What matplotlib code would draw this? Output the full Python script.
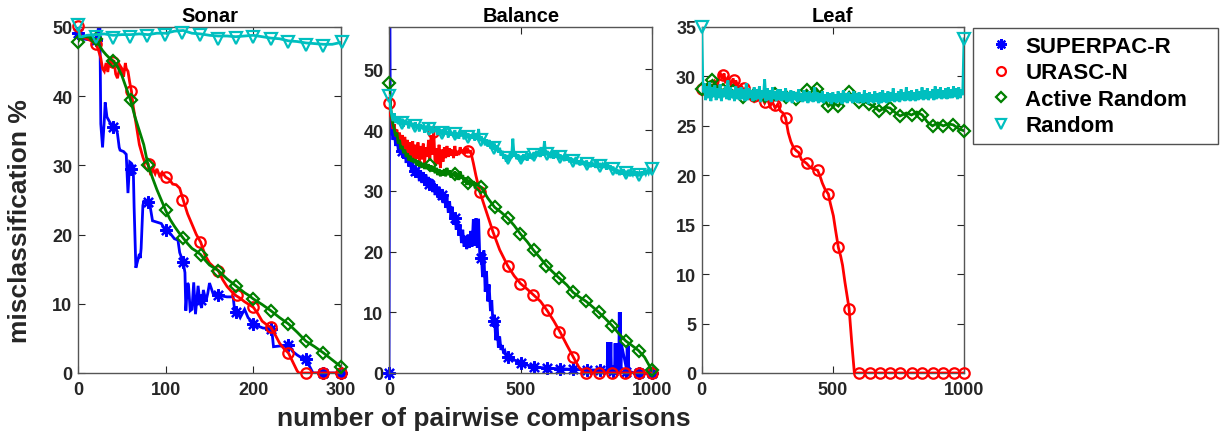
import numpy as np
import matplotlib
matplotlib.use('Agg')
import matplotlib.pyplot as plt
from matplotlib.lines import Line2D

plt.rcParams['font.family'] = ['Liberation Sans', 'DejaVu Sans']
plt.rcParams['font.weight'] = 'bold'

# ---------------- labels ----------------
titles = ['Sonar', 'Balance', 'Leaf']
series_names = ['SUPERPAC-R', 'URASC-N', 'Active Random', 'Random']
x_label = 'number of pairwise comparisons'
y_label = 'misclassification %'

sonar_xticks = [0, 100, 200, 300]
sonar_yticks = [0, 10, 20, 30, 40, 50]
balance_xticks = [0, 500, 1000]
balance_yticks = [0, 10, 20, 30, 40, 50]
leaf_xticks = [0, 500, 1000]
leaf_yticks = [0, 5, 10, 15, 20, 25, 30, 35]

# ---------------- Sonar ----------------
sonar_superpac_x = [0, 5, 10, 15, 20, 22, 24, 25, 26, 28, 30, 31, 33, 36, 40, 43, 45, 47, 48, 52,
                    55, 57, 59, 61, 63, 64, 66, 68, 70, 71, 72, 74, 75, 80, 82, 85, 90, 95, 100, 105,
                    110, 114, 116, 120, 122, 123, 125, 126, 128, 130, 132, 134, 137, 139, 141, 143, 146, 148, 150, 154,
                    160, 170, 177, 179, 182, 185, 190, 194, 197, 200, 205, 211, 219, 221, 223, 230, 238, 240, 245, 250,
                    255, 260, 264, 268, 280, 300]
sonar_superpac_y = [49.2, 48.3, 48.2, 48.2, 48.1, 48.3, 50.9, 50.0, 36.0, 32.6, 36.5, 39.1, 37.0, 36.3, 35.5, 35.6, 34.6, 32.6, 32.2, 32.0,
                    31.6, 26.0, 30.5, 30.3, 29.8, 24.0, 15.2, 16.2, 17.2, 16.6, 18.0, 24.2, 24.8, 24.7, 24.3, 22.0, 21.8, 21.6, 20.6, 20.2,
                    19.4, 19.2, 17.4, 16.0, 14.5, 9.0, 13.0, 12.8, 9.0, 9.2, 13.1, 8.5, 12.6, 10.2, 9.4, 12.0, 10.4, 11.5, 13.0, 11.5,
                    11.2, 11.0, 11.0, 8.6, 8.7, 8.0, 9.2, 8.0, 7.6, 7.1, 6.8, 6.5, 6.4, 6.3, 3.8, 3.9, 3.9, 4.0, 3.1, 2.6,
                    2.2, 2.0, 1.0, 0.0, 0.0, 0.0]
sonar_superpac_mx = [0, 20, 40, 60, 80, 100, 120, 140, 160, 180, 200, 220, 240, 260, 280, 300]
sonar_superpac_my = [49.2, 48.1, 35.5, 29.5, 24.7, 20.6, 16.0, 10.5, 11.2, 8.8, 7.1, 6.4, 4.0, 2.0, 0.0, 0.0]

sonar_urasc_x = [0, 3, 8, 15, 20, 23, 26, 28, 30, 32, 34, 36, 38, 41, 43, 45, 48, 50, 52, 54,
                 55, 57, 59, 61, 63, 66, 70, 74, 76, 80, 83, 85, 88, 90, 93, 96, 100, 104, 108, 112,
                 116, 120, 125, 130, 135, 140, 145, 150, 155, 160, 165, 170, 175, 180, 185, 190, 195, 200, 205, 210,
                 215, 220, 225, 230, 235, 240, 245, 250, 252, 300]
sonar_urasc_y = [50.2, 48.6, 48.4, 48.0, 47.6, 46.8, 45.5, 44.0, 43.6, 44.8, 43.5, 45.4, 44.6, 45.2, 43.2, 42.6, 44.4, 44.0, 42.8, 44.8,
                 44.0, 43.6, 42.0, 40.7, 38.5, 36.2, 33.0, 31.2, 30.5, 30.2, 28.6, 29.6, 28.8, 29.5, 28.5, 29.0, 28.3, 28.0, 27.3, 27.2,
                 26.7, 25.0, 23.0, 21.5, 20.0, 18.9, 17.0, 15.9, 15.3, 14.8, 13.5, 12.5, 11.8, 11.2, 10.8, 10.3, 9.9, 9.5, 8.6, 7.5,
                 7.0, 6.6, 5.5, 4.3, 3.5, 2.9, 1.6, 0.3, 0.0, 0.0]
sonar_urasc_mx = [0, 20, 40, 61, 81, 100, 119, 139, 160, 181, 200, 220, 239, 260, 280, 300]
sonar_urasc_my = [50.2, 47.6, 45.0, 40.7, 30.2, 28.3, 25.0, 18.9, 14.8, 11.3, 9.5, 6.6, 2.9, 0.0, 0.0, 0.0]

sonar_active_x = [0, 3, 8, 15, 20, 24, 28, 32, 36, 40, 45, 50, 55, 60, 65, 70, 75, 80, 85, 90,
                  95, 100, 105, 110, 115, 120, 125, 130, 135, 140, 145, 150, 155, 160, 165, 170, 175, 180, 185, 190,
                  195, 200, 210, 220, 230, 240, 250, 260, 270, 280, 290, 300]
sonar_active_y = [47.9, 48.4, 48.6, 48.5, 48.2, 47.4, 46.6, 46.0, 45.5, 45.1, 44.3, 43.0, 41.2, 39.4, 37.0, 35.0, 33.0, 30.0, 28.2, 26.5,
                  25.0, 23.5, 22.2, 21.2, 20.3, 19.5, 18.7, 18.0, 17.6, 17.1, 16.3, 15.6, 15.2, 14.8, 14.2, 13.6, 13.1, 12.6, 12.1, 11.6,
                  11.2, 10.7, 9.9, 9.0, 8.0, 7.1, 5.9, 4.6, 3.8, 2.9, 1.9, 0.9]
sonar_active_mx = [0, 20, 40, 60, 80, 100, 120, 140, 160, 180, 200, 220, 240, 260, 280, 300]
sonar_active_my = [47.9, 48.2, 45.1, 39.4, 30.0, 23.5, 19.5, 17.1, 14.8, 12.6, 10.7, 9.0, 7.1, 4.6, 2.9, 0.9]

sonar_random_x = [0, 2, 5, 10, 20, 30, 40, 50, 60, 70, 80, 90, 100, 110, 120, 130, 140, 150, 160, 170,
                  180, 190, 200, 210, 220, 230, 240, 250, 260, 270, 280, 290, 301]
sonar_random_y = [50.3, 48.6, 48.6, 48.8, 48.9, 49.0, 48.8, 48.9, 48.9, 49.0, 48.9, 49.1, 49.1, 49.4, 49.5, 49.1, 49.0, 48.8, 48.7, 48.7,
                  48.6, 48.7, 48.8, 48.6, 48.4, 48.3, 48.0, 47.9, 47.7, 47.6, 47.5, 47.5, 47.8]
sonar_random_mx = [0, 20, 40, 59, 79, 99, 119, 139, 160, 180, 200, 220, 240, 260, 280, 301]
sonar_random_my = [50.3, 48.5, 48.4, 48.5, 48.7, 48.8, 49.2, 48.8, 48.3, 48.4, 48.5, 48.2, 47.8, 47.4, 47.2, 47.9]

# ---------------- Balance ----------------
balance_step = 5
balance_superpac_head_x = [0, 3]
balance_superpac_head_y = [0.0, 57.0]
# values from x = 5 to 455, every 5
balance_superpac_noisy_y = [41.5, 40.2, 38.4, 40.0, 37.4, 39.0, 36.8, 38.3, 36.0, 37.6,
                            35.3, 37.0, 34.6, 36.3, 34.0, 35.5, 33.2, 34.8, 32.5, 34.2,
                            32.2, 33.8, 31.6, 33.4, 31.3, 33.1, 30.9, 32.7, 30.5, 32.3,
                            30.2, 32.0, 29.8, 31.6, 29.3, 31.1, 28.9, 30.7, 28.5, 30.3,
                            28.0, 29.8, 27.2, 29.0, 26.4, 28.3, 25.6, 27.4, 24.4, 26.3,
                            23.6, 25.5, 22.6, 24.5, 21.4, 23.6, 20.8, 22.6, 20.4, 22.8,
                            20.6, 23.4, 20.8, 25.3, 21.0, 25.5, 20.6, 25.4, 18.6, 19.8,
                            15.8, 20.2, 13.4, 16.8, 11.8, 14.6, 10.2, 12.0, 7.6, 9.6,
                            5.4, 8.4, 4.2, 6.0, 3.8, 4.6, 3.2, 3.6, 2.8, 3.0, 2.6]
balance_superpac_tail_x = [460, 500, 550, 600, 650, 700, 750, 800, 828,
                           830, 832, 834, 836, 838, 840, 842, 844,
                           856, 858, 860, 862, 864, 866, 868, 870,
                           872, 874, 876, 878, 880, 882,
                           902, 904, 906, 908, 910, 912, 930, 1000]
balance_superpac_tail_y = [2.5, 1.6, 1.0, 0.8, 0.7, 0.6, 0.5, 0.5, 0.5,
                           5.1, 0.5, 5.1, 0.5, 5.1, 0.5, 5.1, 0.5,
                           0.5, 4.9, 0.5, 4.9, 0.5, 4.9, 0.5, 4.9,
                           0.5, 10.0, 0.5, 10.0, 0.5, 4.8,
                           0.5, 4.5, 0.5, 4.5, 0.5, 0.3, 0.0, 0.0]
balance_superpac_mx = [0, 50, 100, 150, 200, 250, 300, 350, 400, 450, 500, 550, 600, 650, 700, 750, 800, 850, 900, 950, 1000]
balance_superpac_my = [0.0, 36.6, 33.2, 31.2, 29.4, 25.5, 21.8, 19.0, 8.6, 2.6, 1.6, 1.0, 0.9, 0.7, 0.6, 0.5, 0.5, 0.3, 0.2, 0.0, 0.0]

# values from x = 0 to 310, every 5
balance_urasc_noisy_y = [44.5, 42.5, 41.8, 40.2, 41.0, 39.0, 40.1, 38.2, 39.6, 37.6, 39.2,
                         36.8, 38.9, 36.4, 38.4, 35.8, 38.0, 35.4, 38.2, 35.0, 37.6,
                         35.3, 38.0, 34.8, 37.4, 35.2, 37.8, 34.6, 37.2, 35.6, 38.4,
                         35.0, 39.2, 36.0, 39.8, 34.2, 37.0, 34.4, 37.6, 33.8, 36.8,
                         34.8, 37.2, 35.4, 37.4, 35.6, 37.0, 35.8, 36.8, 35.4, 37.4,
                         35.8, 36.6, 35.9, 37.2, 36.2, 36.8, 36.0, 37.0, 36.2, 36.8,
                         36.4, 36.5]
balance_urasc_tail_x = [320, 330, 345, 370, 395, 420, 450, 475, 500, 525, 550, 575, 600, 625, 650, 675, 700, 720, 740, 1000]
balance_urasc_tail_y = [34.6, 32.5, 29.8, 26.5, 23.2, 20.3, 17.7, 16.0, 14.7, 13.8, 12.8, 11.8, 10.3, 8.6, 6.7, 4.6, 2.6, 1.0, 0.0, 0.0]
balance_urasc_mx = [0, 168, 301, 345, 394, 451, 499, 546, 599, 647, 698, 748, 797, 847, 897, 947, 1000]
balance_urasc_my = [44.5, 39.7, 36.6, 29.8, 23.2, 17.7, 14.7, 12.9, 10.3, 6.7, 2.6, 0.0, 0.0, 0.0, 0.0, 0.0, 0.0]

# values from x = 0 to 330, every 5
balance_active_noisy_y = [47.8, 44.6, 42.2, 41.0, 40.2, 39.0, 39.6, 37.8, 38.4, 36.9, 37.4,
                          36.2, 36.8, 35.6, 36.2, 35.0, 35.8, 34.8, 35.4, 34.6, 35.2,
                          34.2, 35.0, 34.0, 34.8, 33.8, 34.6, 33.6, 34.5, 33.6, 34.4,
                          33.5, 34.2, 33.2, 34.0, 32.9, 33.8, 32.6, 33.6, 32.4, 33.4,
                          32.5, 33.6, 32.4, 33.8, 32.6, 33.4, 32.2, 33.0, 32.4, 33.2,
                          32.0, 33.0, 31.8, 33.2, 32.0, 32.6, 31.4, 32.2, 31.0, 31.6,
                          31.2, 31.8, 31.0, 31.6, 30.8, 31.2]
balance_active_tail_x = [350, 375, 401, 425, 451, 475, 499, 525, 549, 575, 597, 620, 647, 675, 698, 720, 748, 770, 796, 820,
                         847, 870, 898, 920, 947, 970, 997]
balance_active_tail_y = [30.6, 28.8, 27.3, 26.5, 25.5, 24.3, 22.9, 21.6, 20.2, 18.9, 17.7, 16.7, 15.6, 14.5, 13.3, 12.6, 11.8, 11.0, 10.0, 9.0,
                         7.8, 6.6, 5.3, 4.6, 3.7, 2.6, 0.5]
balance_active_mx = [0, 154, 249, 300, 350, 401, 451, 499, 549, 597, 647, 698, 748, 796, 847, 898, 947, 997]
balance_active_my = [47.8, 34.2, 32.8, 31.3, 30.6, 27.3, 25.5, 22.9, 20.2, 17.7, 15.6, 13.3, 11.8, 10.0, 7.8, 5.3, 3.7, 0.5]

# values from x = 0 to 1000, every 5
balance_random_y = [45.7, 43.8, 42.6, 41.5, 42.8, 41.2, 42.3, 41.0, 42.0, 40.8,
                    41.9, 40.6, 41.7, 40.9, 41.5, 40.3, 41.6, 40.7, 41.2, 40.2,
                    41.3, 40.4, 40.9, 39.8, 41.0, 40.2, 40.8, 39.6, 40.7, 40.0,
                    41.2, 39.9, 40.6, 39.5, 40.4, 39.7, 40.5, 39.2, 40.3, 39.4,
                    40.1, 39.0, 40.4, 39.3, 39.8, 38.8, 40.2, 39.1, 39.7, 38.9,
                    40.0, 38.8, 39.6, 38.6, 39.9, 39.0, 39.4, 38.5, 39.8, 38.7,
                    39.5, 38.4, 39.3, 38.6, 39.6, 38.3, 39.2, 38.5, 40.2, 38.2,
                    39.0, 37.9, 38.7, 37.5, 38.5, 37.3, 38.4, 37.0, 38.0, 36.8,
                    37.8, 36.6, 37.5, 36.3, 37.1, 35.8, 36.6, 35.3, 36.0, 34.8,
                    35.9, 35.0, 36.3, 35.4, 38.6, 35.6, 36.4, 35.2, 36.0, 34.9,
                    35.8, 34.9, 36.0, 35.1, 35.8, 35.0, 36.2, 35.3, 36.1, 35.2,
                    36.4, 35.5, 36.6, 35.7, 36.3, 35.6, 37.0, 35.8, 38.2, 35.9,
                    36.6, 35.6, 36.4, 35.4, 36.5, 35.3, 36.2, 35.5, 36.7, 35.2,
                    36.0, 35.2, 35.8, 34.9, 36.1, 35.0, 35.6, 34.7, 35.5, 34.6,
                    35.3, 34.5, 35.6, 34.4, 35.0, 34.2, 35.2, 34.3, 34.9, 34.1,
                    35.0, 34.0, 34.7, 33.9, 34.8, 34.0, 34.5, 33.8, 34.9, 33.9,
                    34.6, 33.7, 34.3, 33.8, 34.6, 33.5, 34.4, 33.6, 34.2, 33.4,
                    34.0, 33.2, 33.7, 32.8, 33.5, 32.6, 33.4, 32.7, 33.6, 32.5,
                    33.3, 32.6, 33.5, 32.4, 33.1, 32.7, 33.4, 32.5, 33.2, 32.6,
                    33.0, 32.4, 33.2, 32.6, 33.4, 32.8, 33.3, 32.9, 33.5, 33.2,
                    33.6]
balance_random_mx = [0, 50, 100, 150, 200, 250, 300, 350, 400, 450, 500, 550, 600, 650, 700, 750, 800, 850, 900, 950, 1000]
balance_random_my = [45.7, 41.2, 40.7, 40.2, 39.6, 39.3, 38.9, 38.4, 37.1, 35.4, 35.4, 35.9, 36.0, 35.6, 34.9, 34.5, 34.1, 33.6, 32.9, 32.7, 33.6]

# ---------------- Leaf ----------------
leaf_urasc_x = [0, 10, 20, 30, 40, 50, 60, 70, 80, 85, 90, 100, 110, 120, 125, 130, 140, 150, 160, 170,
                180, 190, 200, 210, 220, 230, 240, 250, 260, 270, 280, 290, 300, 310, 320, 330, 340, 350, 360, 370,
                380, 390, 400, 410, 420, 430, 442, 450, 460, 470, 483, 490, 502, 510, 521, 530, 537, 546, 562, 572,
                582, 1000]
leaf_urasc_y = [28.7, 29.1, 28.6, 29.3, 28.8, 29.5, 29.1, 30.4, 29.7, 30.3, 29.5, 29.9, 29.2, 29.8, 29.1, 29.6, 28.8, 29.1, 28.6, 28.9,
                28.2, 28.3, 27.6, 28.2, 27.6, 27.9, 27.3, 27.8, 27.0, 27.4, 26.8, 27.2, 26.5, 26.3, 25.8, 24.3, 23.4, 22.8, 22.5, 22.3,
                21.6, 21.4, 21.2, 20.9, 20.7, 20.6, 20.5, 20.0, 19.2, 18.6, 18.1, 17.2, 15.9, 14.5, 12.7, 11.8, 10.9, 9.2, 6.5, 3.1,
                0.0, 0.0]
leaf_urasc_mx = [0, 41, 82, 123, 161, 201, 241, 280, 321, 360, 400, 442, 483, 521, 562,
                 601, 640, 680, 718, 757, 800, 841, 880, 921, 960, 1000]
leaf_urasc_my = [28.7, 29.0, 30.1, 29.6, 28.8, 28.0, 27.4, 27.1, 25.8, 22.5, 21.2, 20.5, 18.1, 12.7, 6.5,
                 0.0, 0.0, 0.0, 0.0, 0.0, 0.0, 0.0, 0.0, 0.0, 0.0, 0.0]

leaf_active_x = [0, 20, 41, 60, 80, 100, 120, 140, 159, 180, 200, 220, 240, 260, 280, 300, 321, 340, 360, 380,
                 400, 420, 438, 460, 483, 500, 521, 540, 562, 580, 601, 620, 639, 660, 677, 700, 718, 740, 756, 780,
                 800, 820, 841, 860, 880, 900, 921, 940, 959, 980, 1000]
leaf_active_y = [28.7, 29.2, 29.6, 28.9, 28.6, 28.9, 28.5, 28.7, 27.9, 28.3, 28.1, 28.4, 28.0, 28.3, 28.2, 27.7, 27.9, 28.2, 27.7, 28.1,
                 28.6, 28.0, 28.7, 28.0, 27.0, 27.4, 27.0, 27.7, 28.4, 27.8, 27.4, 27.5, 27.2, 26.9, 26.5, 26.9, 26.8, 26.3, 26.0, 26.3,
                 26.1, 26.4, 26.1, 25.4, 25.0, 25.3, 25.0, 25.2, 25.1, 24.7, 24.5]
leaf_active_mx = [0, 41, 80, 120, 159, 200, 240, 280, 321, 360, 400, 438, 483, 521, 562, 601, 639, 677, 718, 756,
                  800, 841, 880, 921, 959, 1000]
leaf_active_my = [28.7, 29.6, 28.6, 28.5, 27.9, 28.1, 28.0, 28.2, 27.9, 27.7, 28.6, 28.7, 27.0, 27.0, 28.4, 27.4, 27.2, 26.5, 26.8, 26.0,
                  26.1, 26.1, 25.0, 25.0, 25.1, 24.5]

leaf_step = 5
# values from x = 0 to 1000, every 5
leaf_random_y = [35.0, 28.4, 29.3, 27.6, 29.0, 27.8, 29.4, 27.5, 28.9, 27.9,
                 29.1, 27.6, 28.8, 27.8, 29.2, 27.5, 28.7, 27.9, 29.0, 27.7,
                 29.6, 27.6, 28.9, 27.8, 28.6, 27.5, 29.0, 27.7, 28.8, 27.6,
                 28.9, 27.7, 28.7, 27.5, 29.3, 27.6, 28.8, 27.8, 28.6, 27.5,
                 28.9, 27.6, 28.7, 27.7, 29.0, 27.4, 28.6, 27.8, 29.7, 27.5,
                 28.8, 27.6, 28.6, 27.4, 28.9, 27.7, 28.5, 27.5, 28.7, 27.6,
                 28.7, 27.5, 28.5, 27.6, 28.8, 27.4, 28.4, 27.5, 28.6, 27.3,
                 28.5, 27.6, 28.4, 27.4, 28.7, 27.5, 28.3, 27.4, 28.6, 27.5,
                 28.4, 27.3, 28.5, 27.5, 28.3, 27.4, 28.9, 27.5, 28.4, 27.3,
                 28.3, 27.4, 28.5, 27.3, 28.2, 27.5, 28.4, 27.4, 28.3, 27.2,
                 28.4, 27.4, 28.2, 27.3, 28.5, 27.4, 28.3, 27.2, 28.6, 27.4,
                 28.3, 27.3, 28.4, 27.5, 28.2, 27.3, 28.5, 27.4, 28.3, 27.3,
                 28.4, 27.4, 28.2, 27.3, 28.6, 27.4, 28.3, 27.2, 28.4, 27.4,
                 28.2, 27.3, 28.5, 27.4, 28.3, 27.2, 28.4, 27.3, 28.6, 27.4,
                 28.3, 27.3, 28.5, 27.4, 28.4, 27.5, 28.8, 27.4, 28.3, 27.5,
                 28.5, 27.4, 28.7, 27.6, 28.4, 27.5, 28.9, 27.6, 28.5, 27.5,
                 28.6, 27.6, 28.4, 27.5, 28.7, 27.6, 28.5, 27.7, 28.9, 27.6,
                 28.6, 27.7, 28.8, 27.6, 28.5, 27.8, 28.7, 27.6, 29.0, 27.7,
                 28.7, 27.8, 28.9, 27.7, 28.6, 27.8, 28.8, 27.7, 28.9, 27.8,
                 28.7, 27.8, 29.0, 27.9, 28.8, 27.7, 28.9, 27.8, 28.7, 28.1,
                 33.8]
leaf_random_mx = [0, 1000]
leaf_random_my = [35.0, 33.8]

# ---------------- styles ----------------
colors = ['#0000ff', '#ff0000', '#008000', '#00bfbf']
marker_styles = [(8, 2, 0), 'o', 'D', 'v']
marker_sizes = [9, 7.5, 6.5, 8.5]
text_color = '#262626'

def grid_x(n, step):
    return np.arange(n) * step

balance_superpac_x = (balance_superpac_head_x
                      + list(5 + grid_x(len(balance_superpac_noisy_y), balance_step))
                      + balance_superpac_tail_x)
balance_superpac_y = balance_superpac_head_y + balance_superpac_noisy_y + balance_superpac_tail_y
balance_urasc_x = list(grid_x(len(balance_urasc_noisy_y), balance_step)) + balance_urasc_tail_x
balance_urasc_y = balance_urasc_noisy_y + balance_urasc_tail_y
balance_active_x = list(grid_x(len(balance_active_noisy_y), balance_step)) + balance_active_tail_x
balance_active_y = balance_active_noisy_y + balance_active_tail_y
balance_random_x = grid_x(len(balance_random_y), balance_step)
leaf_random_x = grid_x(len(leaf_random_y), leaf_step)

panels = [
    dict(title=titles[0], xlim=(0, 300), ylim=(0, 50), xticks=sonar_xticks, yticks=sonar_yticks,
         series=[(sonar_superpac_x, sonar_superpac_y, sonar_superpac_mx, sonar_superpac_my),
                 (sonar_urasc_x, sonar_urasc_y, sonar_urasc_mx, sonar_urasc_my),
                 (sonar_active_x, sonar_active_y, sonar_active_mx, sonar_active_my),
                 (sonar_random_x, sonar_random_y, sonar_random_mx, sonar_random_my)]),
    dict(title=titles[1], xlim=(0, 1000), ylim=(0, 57), xticks=balance_xticks, yticks=balance_yticks,
         series=[(balance_superpac_x, balance_superpac_y, balance_superpac_mx, balance_superpac_my),
                 (balance_urasc_x, balance_urasc_y, balance_urasc_mx, balance_urasc_my),
                 (balance_active_x, balance_active_y, balance_active_mx, balance_active_my),
                 (balance_random_x, balance_random_y, balance_random_mx, balance_random_my)]),
    dict(title=titles[2], xlim=(0, 1000), ylim=(0, 35), xticks=leaf_xticks, yticks=leaf_yticks,
         series=[None,
                 (leaf_urasc_x, leaf_urasc_y, leaf_urasc_mx, leaf_urasc_my),
                 (leaf_active_x, leaf_active_y, leaf_active_mx, leaf_active_my),
                 (leaf_random_x, leaf_random_y, leaf_random_mx, leaf_random_my)]),
]

fig = plt.figure(figsize=(12.25, 4.35), dpi=100)
axes_boxes = [(78, 341), (389, 652.5), (701.7, 964)]
top_px, bottom_px = 28, 374
W, H = 1225, 435

for (l, r), p in zip(axes_boxes, panels):
    ax = fig.add_axes([l / W, 1 - bottom_px / H, (r - l) / W, (bottom_px - top_px) / H])
    for i, s in enumerate(p['series']):
        if s is None:
            continue
        x, y, mx, my = s
        ax.plot(x, y, color=colors[i], lw=2.0, solid_joinstyle='miter', zorder=2 + i)
        ax.plot(mx, my, linestyle='none', marker=marker_styles[i], ms=marker_sizes[i],
                mfc='none', mec=colors[i], mew=1.6, clip_on=False, zorder=2 + i)
    ax.set_xlim(*p['xlim'])
    ax.set_ylim(*p['ylim'])
    ax.set_xticks(p['xticks'])
    ax.set_yticks(p['yticks'])
    ax.tick_params(direction='in', top=True, right=True, labelsize=13, colors=text_color,
                   length=5, width=0.8)
    ax.tick_params(axis='x', pad=6)
    ax.tick_params(axis='y', pad=4)
    for lab in ax.get_xticklabels() + ax.get_yticklabels():
        lab.set_fontweight('bold')
    for sp in ax.spines.values():
        sp.set_color('#555555')
        sp.set_linewidth(1.0)
    ax.set_title(p['title'], fontsize=14.5, fontweight='bold', color='black', pad=4)

fig.text(484 / W, 1 - 419 / H, x_label, ha='center', va='center', fontsize=19,
         fontweight='bold', color=text_color)
fig.text(20 / W, 1 - 221 / H, y_label, ha='center', va='center', rotation=90, fontsize=19,
         fontweight='bold', color=text_color)

handles = [Line2D([], [], linestyle='none', marker=marker_styles[i], ms=marker_sizes[i] * 0.85,
                  mfc='none', mec=colors[i], mew=1.6) for i in range(4)]
leg = fig.legend(handles, series_names, loc='upper left',
                 bbox_to_anchor=(973 / W, 1 - 146 / H, 245 / W, 117 / H), mode='expand',
                 borderaxespad=0, fontsize=16, frameon=True, fancybox=False,
                 handlelength=1.8, handletextpad=0.2, labelspacing=0.25, borderpad=0.35)
leg.get_frame().set_edgecolor('#262626')
leg.get_frame().set_linewidth(1.0)
for t in leg.get_texts():
    t.set_fontweight('bold')

fig.savefig('out.png', dpi=100)
